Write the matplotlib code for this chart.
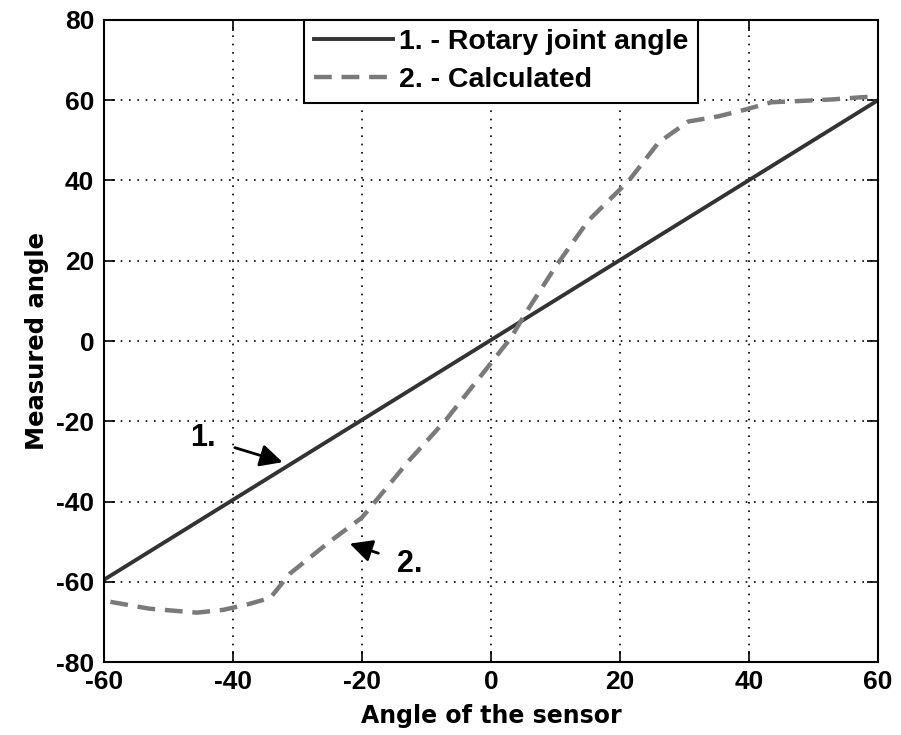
import numpy as np
import matplotlib
matplotlib.use("Agg")
import matplotlib.pyplot as plt

# data
sensor_angle = [-60, 60]
rotary_angle = [-59.5, 60]

calc_x = [-59, -53, -45.6, -41.5, -37.4, -34.2, -31.2, -25, -20, -12.7, -7, 0,
          3.1, 5.4, 10, 15.1, 21.4, 26, 30.6, 35.3, 39.5, 43.5, 47.7, 52.9, 57, 60]
calc_y = [-65, -66.7, -67.7, -67, -65.5, -64, -58, -50, -44, -29.8, -19.7, -5.5,
          0.8, 7, 18.5, 30, 40, 49.5, 54.7, 56, 57.7, 59.5, 59.8, 60.2, 60.7, 61]

plt.rcParams['font.family'] = ['Liberation Sans', 'DejaVu Sans']
plt.rcParams['font.weight'] = 'bold'
plt.rcParams['axes.labelweight'] = 'bold'
plt.rcParams['axes.unicode_minus'] = False

fig = plt.figure(figsize=(9.01, 7.35), dpi=100)
ax = fig.add_axes([0.1154, 0.0993, 0.859, 0.8735])

ax.plot(sensor_angle, rotary_angle, color='#333333', lw=2.8, label='1. - Rotary joint angle')
ax.plot(calc_x, calc_y, color='#7a7a7a', lw=3.2, ls=(0, (4, 2.2)), label='2. - Calculated')

ax.set_xlim(-60, 60)
ax.set_ylim(-80, 80)
ax.set_xticks(np.arange(-60, 61, 20))
ax.set_yticks(np.arange(-80, 81, 20))
ax.grid(True, ls=(0, (1, 4)), color='black', lw=1.2)
ax.tick_params(direction='in', length=8, width=1.2, labelsize=19, top=True, right=True)
ax.tick_params(axis='y', pad=7)
ax.tick_params(axis='x', pad=6)
for s in ax.spines.values():
    s.set_linewidth(1.5)

ax.set_xlabel('Angle of the sensor', fontsize=17, family='DejaVu Sans', labelpad=7)
ax.set_ylabel('Measured angle', fontsize=17.5, family='DejaVu Sans', labelpad=5)

leg = ax.legend(loc='upper center', bbox_to_anchor=(0.513, 1.0), borderaxespad=0,
                prop={'size': 20.5, 'weight': 'bold'}, fancybox=False, framealpha=1,
                edgecolor='black', handlelength=2.8, handletextpad=0.2,
                borderpad=0.33, labelspacing=0.42)
leg.get_frame().set_linewidth(1.5)

ax.annotate('1.', xy=(-32.3, -30.2), xytext=(-44.6, -24.2), fontsize=22,
            ha='center', va='center',
            arrowprops=dict(arrowstyle='-|>', color='black', lw=2, mutation_scale=34,
                            shrinkA=12, shrinkB=0))
ax.annotate('2.', xy=(-21.9, -50.5), xytext=(-12.6, -55.5), fontsize=22,
            ha='center', va='center',
            arrowprops=dict(arrowstyle='-|>', color='black', lw=2, mutation_scale=34,
                            shrinkA=12, shrinkB=0))

fig.savefig('out.png', dpi=100)
